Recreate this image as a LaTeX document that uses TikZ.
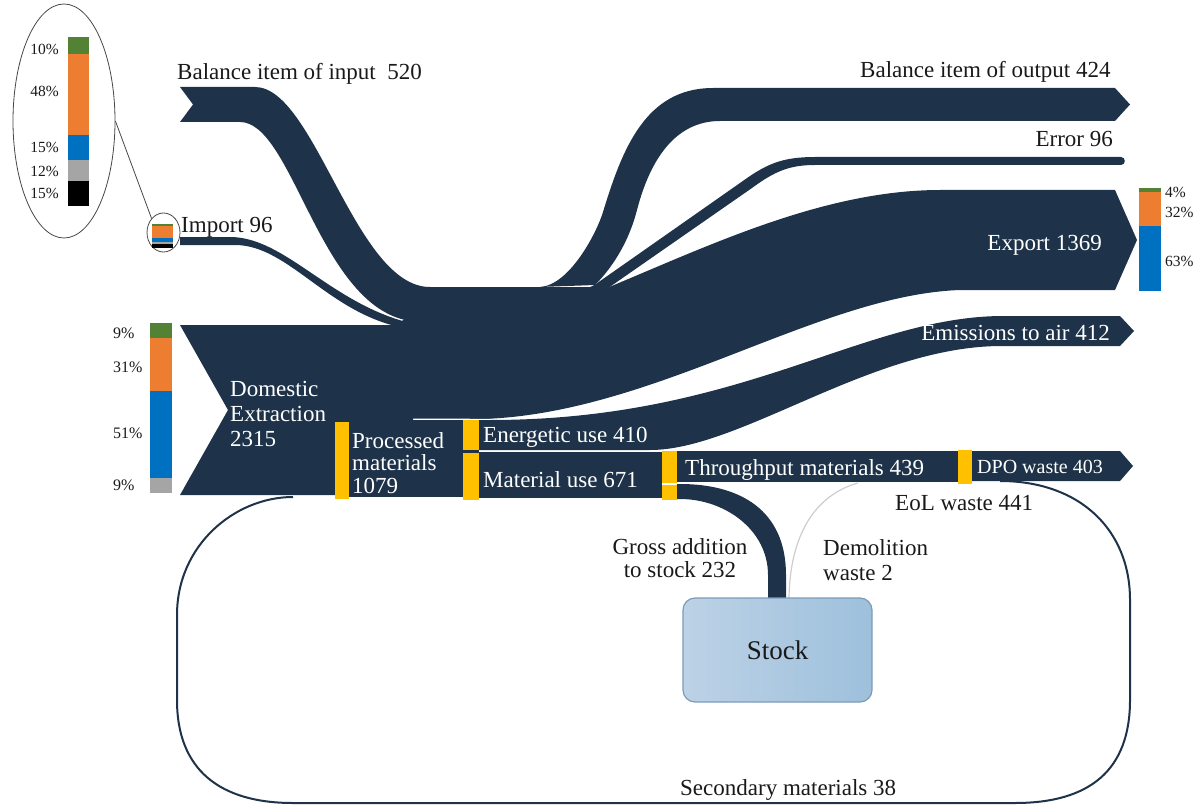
\documentclass[tikz,border=0pt]{standalone}
\usepackage{fontspec}
\setmainfont{Liberation Serif}
\usetikzlibrary{shapes.geometric}
\definecolor{flowblue}{RGB}{30,51,73}
\definecolor{baryellow}{RGB}{255,192,0}
\definecolor{pgreen}{RGB}{84,130,53}
\definecolor{porange}{RGB}{237,125,49}
\definecolor{pblue}{RGB}{0,112,192}
\definecolor{pgray}{RGB}{165,165,165}
\definecolor{txtdark}{RGB}{25,25,25}
\definecolor{stockhi}{RGB}{188,210,230}
\definecolor{stocklo}{RGB}{158,192,220}
\definecolor{stockedge}{RGB}{125,155,185}
\definecolor{thinflow}{RGB}{205,205,205}
\tikzset{
  flow/.style={fill=flowblue},
  procbar/.style={fill=baryellow},
  lbl/.style={font=\fontsize{23}{25}\selectfont, text=txtdark, inner sep=0pt},
  wlbl/.style={lbl, text=white},
  pct/.style={font=\fontsize{15.5}{17}\selectfont, text=txtdark, inner sep=0pt},
  loopline/.style={draw=flowblue, line width=2pt},
  zoomring/.style={ellipse, draw=txtdark!80, line width=0.8pt, inner sep=0pt},
  stockbox/.style={rectangle, rounded corners=12pt, draw=stockedge, line width=1.2pt,
    left color=stockhi, right color=stocklo, minimum width=189pt, minimum height=104pt,
    font=\fontsize{27}{30}\selectfont, text=txtdark}
}
\begin{document}
\begin{tikzpicture}[x=1pt, y=-1pt]
  \useasboundingbox (0,0) rectangle (1193,805);
  % inflows
  \fill[flow] (180,87) -- (255,87) .. controls (315,87) and (355,287) .. (430,287) -- (450,300)
    -- (405,320) .. controls (318,300) and (292,122) .. (240,122) -- (180,122) -- (193,104.5) -- cycle;
  \fill[flow] (180,237) -- (230,237) .. controls (285,237) and (330,303) .. (410,323) -- (410,329)
    .. controls (330,317) and (290,245) .. (235,245) -- (180,245) -- cycle;
  \fill[flow] (180,325) -- (413,325) -- (413,495) -- (180,495) -- (228,410) -- cycle;
  \fill[flow] (398,325) -- (405,318) -- (430,287) -- (590,287) -- (600,283) -- (604,294) -- (540,395)
    -- (490,418.7) -- (398,418.7) -- cycle;
  % outflows
  \fill[flow] (540,287) .. controls (570,285) and (597,232) .. (603,212)
    .. controls (622,150) and (645,88) .. (713,88) -- (1115,88) -- (1130,104.5) -- (1115,121)
    -- (720,121) .. controls (675,121) and (650,160) .. (637,210)
    .. controls (628,245) and (610,270) .. (595,285) -- cycle;
  \fill[flow] (593,286) -- (740,183) .. controls (765,165) and (780,157) .. (815,157) -- (1121,157)
    .. controls (1126,157) and (1126,165) .. (1121,165) -- (815,165)
    .. controls (790,165) and (775,171) .. (752,188) -- (601,293) -- cycle;
  \fill[flow] (597,292) .. controls (700,250) and (820,190) .. (940,190) -- (1115,190) -- (1137,240)
    -- (1115,290) -- (960,290) .. controls (820,295) and (660,410) .. (490,418.7) -- (470,418.7)
    -- (470,300) -- cycle;
  \fill[flow] (479,420) -- (490,420) .. controls (740,420) and (860,318) .. (1000,316) -- (1120,316)
    -- (1134,331) -- (1120,346) -- (1000,346) .. controls (870,347) and (740,450) .. (650,450)
    -- (479,450) -- cycle;
  % processing chain
  \fill[flow] (335,420) rectangle (479,497);
  \fill[flow] (479,452) rectangle (662,498);
  \fill[flow] (677,451) rectangle (958,482);
  \fill[flow] (972,451) -- (1120,451) -- (1133,466) -- (1120,481) -- (972,481) -- cycle;
  \fill[flow] (677,484) -- (680,484) .. controls (740,484) and (786,510) .. (786,575) -- (786,600)
    -- (768,600) -- (768,575) .. controls (768,530) and (725,499) .. (680,499) -- (677,499) -- cycle;
  \foreach \xa/\ya/\xb/\yb in {335/422/349/499, 463/420/479/450, 463/452.5/479/500,
      662/451/677/482.5, 662/485/677/500, 958/450/972/484}
    \fill[procbar] (\xa,\ya) rectangle (\xb,\yb);
  % recycling loop and stock
  \draw[loopline] (293,497) .. controls (235,497) and (177,545) .. (177,615) -- (177,700)
    .. controls (177,770) and (220,803) .. (293,803) -- (1015,803)
    .. controls (1090,803) and (1130,770) .. (1130,700) -- (1130,600)
    .. controls (1130,530) and (1080,481) .. (1000,481);
  \draw[thinflow, line width=1.2pt] (858,483) .. controls (815,495) and (790,535) .. (789,598);
  \node[stockbox] (stock) at (777.5,650) {Stock};
  % composition bars
  \node[zoomring, minimum width=102pt, minimum height=234pt] (bigring) at (64,121) {};
  \node[zoomring, minimum width=33pt, minimum height=39pt] (smallring) at (163.5,232.5) {};
  \draw[txtdark!80, line width=0.8pt] (bigring.east) -- (smallring.north west);
  \foreach \ya/\yb/\col in {37/53.9/pgreen, 53.9/135/porange, 135/160.4/pblue,
      160.4/180.7/pgray, 180.7/206/black}
    \fill[\col] (68,\ya) rectangle (89,\yb);
  \foreach \ya/\yb/\col in {224/226.4/pgreen, 226.4/237.9/porange, 237.9/241.5/pblue,
      241.5/244.4/pgray, 244.4/248/black}
    \fill[\col] (152,\ya) rectangle (173,\yb);
  \foreach \ya/\yb/\col in {323/338.3/pgreen, 338.3/391/porange, 391/477.7/pblue, 477.7/493/pgray}
    \fill[\col] (150,\ya) rectangle (172,\yb);
  \foreach \ya/\yb/\col in {188/192.2/pgreen, 192.2/225.5/porange, 225.5/291/pblue}
    \fill[\col] (1139,\ya) rectangle (1161,\yb);
  \foreach \y/\t [count=\i] in {55/10, 97/48, 153/15, 177/12, 198/15}
    \node[pct, anchor=base east] (imppct\i) at (59,\y) {\t\%};
  \foreach \y/\t [count=\i] in {338/9, 372/31, 438/51, 490/9}
    \node[pct, anchor=base west, font=\fontsize{16}{18}\selectfont] (dompct\i) at (113,\y) {\t\%};
  \foreach \y/\t [count=\i] in {197/4, 218/32, 266/63}
    \node[pct, anchor=base west] (exppct\i) at (1165,\y) {\t\%};
  % labels
  \node[lbl, anchor=base west] (balin) at (177,80) {Balance item of input\ \ 520};
  \node[lbl, anchor=base west] (imp) at (181,232) {Import 96};
  \node[lbl, anchor=base west] (balout) at (860,78) {Balance item of output 424};
  \node[lbl, anchor=base east] (err) at (1113,147) {Error 96};
  \node[wlbl, anchor=base east] (exp) at (1102,250) {Export 1369};
  \node[wlbl, anchor=base east] (emis) at (1110,340) {Emissions to air 412};
  \node[wlbl, anchor=west, align=left] (dom) at (230,414) {Domestic\\Extraction\\2315};
  \node[wlbl, anchor=west, align=left, font=\fontsize{23}{22.5}\selectfont] (proc) at (352,462.7)
    {Processed\\materials\\1079};
  \node[wlbl, anchor=base west] (ener) at (483,442) {Energetic use 410};
  \node[wlbl, anchor=base west] (matuse) at (483,487) {Material use 671};
  \node[wlbl, anchor=base west] (thru) at (685,475) {Throughput materials 439};
  \node[wlbl, anchor=base west, font=\fontsize{20}{22}\selectfont] (dpo) at (977,473) {DPO waste 403};
  \node[lbl, anchor=base west] (eol) at (895,510) {EoL waste 441};
  \node[lbl, align=center, font=\fontsize{23}{23}\selectfont] (gross) at (680,558.6)
    {Gross addition\\to stock 232};
  \node[lbl, align=left, anchor=west] (demol) at (823,559.7) {Demolition\\waste 2};
  \node[lbl, anchor=base west] (secmat) at (680,795) {Secondary materials 38};
\end{tikzpicture}
\end{document}
